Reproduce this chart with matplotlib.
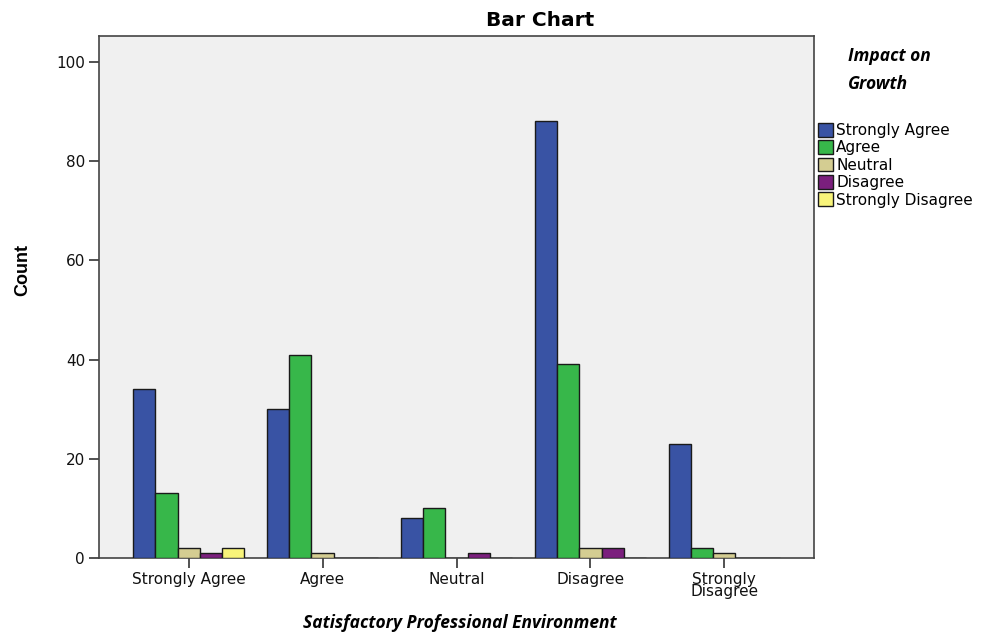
import numpy as np
import matplotlib
matplotlib.use("Agg")
import matplotlib.pyplot as plt
from matplotlib.patches import Patch

categories = ["Strongly Agree", "Agree", "Neutral", "Disagree", "Strongly\nDisagree"]
series_names = ["Strongly Agree", "Agree", "Neutral", "Disagree", "Strongly Disagree"]
strongly_agree = [34, 30, 8, 88, 23]
agree = [13, 41, 10, 39, 2]
neutral = [2, 1, 0, 2, 1]
disagree = [1, 0, 1, 2, 0]
strongly_disagree = [2, 0, 0, 0, 0]
series_values = [strongly_agree, agree, neutral, disagree, strongly_disagree]
series_colors = ["#3953A4", "#37B74A", "#D4CD92", "#7B1F7D", "#F8F47A"]
y_ticks = [0, 20, 40, 60, 80, 100]

plt.rcParams["font.family"] = ["DejaVu Sans"]
caption_font = ["Open Sans", "DejaVu Sans"]

fig = plt.figure(figsize=(9.97, 6.37), dpi=100)
ax = fig.add_axes([99 / 997, 1 - 558 / 637, (814 - 99) / 997, (558 - 36) / 637])
ax.set_facecolor("#F0F0F0")

x = np.arange(len(categories))
width = 0.166
n = len(series_values)
for i, (vals, col) in enumerate(zip(series_values, series_colors)):
    offs = (i - (n - 1) / 2) * width
    ax.bar(x + offs, vals, width=width, color=col, edgecolor="#1a1a1a",
           linewidth=1.0, zorder=3)

ax.set_xlim(-0.67, 4.67)
ax.set_ylim(0, 105.2)
ax.set_yticks(y_ticks)
ax.set_xticks(x)
ax.set_xticklabels(categories, fontsize=11, linespacing=0.8)
ax.tick_params(axis="both", direction="out", length=7, width=1.2,
               colors="#333333", labelcolor="#111111", labelsize=11, pad=3)
for s in ax.spines.values():
    s.set_color("#444444")
    s.set_linewidth(1.2)

fig.text(540 / 997, 1 - 20 / 637, "Bar Chart", ha="center", va="center",
         fontsize=14.5, fontweight="bold")
fig.text(23 / 997, 1 - 270 / 637, "Count", ha="center", va="center",
         rotation=90, fontsize=13, fontweight="bold",
         family=["Liberation Sans Narrow", "Liberation Sans"])
fig.text(460 / 997, 1 - 623 / 637, "Satisfactory Professional Environment",
         ha="center", va="center", fontsize=12.5, fontweight="bold",
         style="italic", family=caption_font)
fig.text(848 / 997, 1 - 56 / 637, "Impact on", ha="left", va="center",
         fontsize=12.5, fontweight="bold", style="italic", family=caption_font)
fig.text(848 / 997, 1 - 84 / 637, "Growth", ha="left", va="center",
         fontsize=12.5, fontweight="bold", style="italic", family=caption_font)

handles = [Patch(facecolor=c, edgecolor="#1a1a1a", linewidth=1.0, label=l)
           for c, l in zip(series_colors, series_names)]
fig.legend(handles=handles, loc="upper left",
           bbox_to_anchor=(818 / 997, 1 - 123 / 637), frameon=False,
           fontsize=11, handlelength=1.0, handleheight=1.0,
           labelspacing=0.15, handletextpad=0.2, borderpad=0,
           borderaxespad=0)

fig.savefig("out.png", dpi=100, facecolor="white")
